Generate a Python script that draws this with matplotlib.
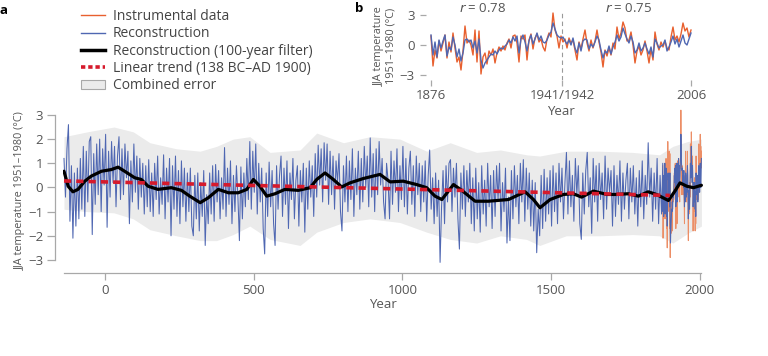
import numpy as np
import matplotlib
matplotlib.use("Agg")
import matplotlib.pyplot as plt
from matplotlib.lines import Line2D
from matplotlib.patches import Patch

plt.rcParams['font.family'] = ['Open Sans', 'DejaVu Sans']

# ---------------- data ----------------
# Reconstruction (sampled every 5 years, 138 BC .. AD 1872)
recon_start = -138
recon_step = 5
recon_5yr = [
    1.2, -0.4, 1.6, 2.6, -1.4, 0.9, -2.1, 0.6, -1.6, 0.8,
    -1.3, 1.2, -0.9, 1.7, -1.2, 1.5, -0.6, 1.9, 2.1, -1.95,
    1.4, -0.7, 1.8, -0.3, 2.0, -1.0, 1.6, 0.1, 2.2, -1.65,
    1.5, -0.4, 1.9, 0.2, 1.7, -0.8, 1.3, 2.1, -0.5, 1.6,
    -0.3, 1.8, 0.4, 1.5, -1.5, 1.1, -0.6, 1.8, -0.2, 1.3,
    -0.9, 1.2, -0.4, 1.0, -1.1, 0.9, -0.8, 1.15, -1.0, 0.6,
    -1.2, 1.0, -0.5, 1.3, -1.1, 0.4, -0.7, 1.35, -1.3, 0.8,
    -0.6, 1.2, -2.0, 0.9, -0.9, 1.3, -1.2, 0.7, -1.5, 1.1,
    -0.8, 0.8, -1.4, 0.6, -1.0, 0.8, -1.6, -2.0, 0.5, -1.3,
    0.6, -1.8, 0.2, -1.2, 0.7, -2.4, -0.3, -1.5, 0.6, -1.1,
    0.9, -1.4, 0.95, -0.6, 0.7, -1.3, 0.4, -0.9, 1.65, -1.2,
    0.8, -0.7, 1.1, -1.5, 0.5, -1.0, 0.9, -0.4, -2.2, 0.85,
    -1.3, 0.6, -0.8, 1.2, -0.5, 1.9, -0.9, 1.5, -0.2, 1.8,
    -1.1, 1.0, -0.6, 0.8, -1.7, -2.75, 0.6, -1.2, 1.05, -0.8,
    0.7, -1.5, -2.4, 0.9, -0.9, 0.5, 1.3, -1.2, 0.8, -0.7,
    1.1, -1.7, 0.6, -0.5, 1.2, -1.3, 0.3, 0.9, -1.6, 0.7,
    -0.6, 1.0, -1.85, 0.8, -0.9, 1.1, -0.4, 0.9, -1.2, 1.4,
    -0.4, 1.75, 0.1, 1.6, -0.6, 1.85, 0.3, 1.8, -0.7, 1.5,
    -0.3, 1.3, -0.9, 1.1, 0.2, 1.4, -1.0, -1.8, 0.9, -0.6,
    1.3, -1.0, 1.1, -0.5, 1.6, -1.2, 0.8, -0.3, 1.5, -0.9,
    1.2, -0.6, 1.7, 0.0, 1.3, -0.8, 2.05, -0.4, 1.4, -1.0,
    1.6, -0.3, 1.9, 0.1, 1.2, -0.6, -1.3, 1.0, 0.3, -1.3,
    1.5, -0.7, 1.1, -0.2, 1.6, -1.0, 0.9, -0.5, 1.7, -0.8,
    1.2, -1.1, 0.8, 1.5, -0.7, 0.9, -1.2, 1.3, -0.3, 1.0,
    -1.0, 0.9, -0.6, 1.1, -1.4, 0.5, 1.55, -0.9, 0.4, -1.5,
    0.6, -1.2, 0.3, -3.1, -0.8, 0.7, -1.5, 0.9, -0.6, 1.0,
    1.15, -1.0, 0.8, -0.4, 1.0, -1.3, -2.55, 0.6, -0.9, 0.9,
    -1.2, 0.7, -0.6, 1.0, -1.5, 0.4, -1.8, 0.8, -1.3, 0.2,
    -1.85, 0.9, -1.1, 0.3, -1.6, 1.0, -0.8, 0.5, -1.7, 0.7,
    -1.2, 0.9, -0.5, 1.0, -1.8, 0.2, -1.0, 0.8, -2.3, -0.4,
    -2.2, 0.7, -1.3, 0.9, -0.8, 0.5, -1.5, 1.0, -0.6, 1.15,
    -1.4, 0.8, -0.9, 0.6, -1.6, 0.3, -1.8, 0.2, -2.7, -0.9,
    -2.0, 0.5, -1.7, 0.75, -1.4, 0.4, -1.1, 0.7, -1.6, 0.9,
    -1.0, 0.6, -1.5, 1.0, -0.6, 0.8, -1.3, 0.2, 1.45, -1.1,
    1.1, -0.8, 0.5, -1.4, 1.2, -0.3, 0.9, -1.5, -2.15, 0.6,
    -1.1, 0.7, 1.45, -0.8, 0.4, -1.9, 1.2, -0.6, 0.9, -1.4,
    1.0, -0.5, 0.6, -1.3, 1.3, -0.9, 0.8, -0.2, 0.7, -1.6,
    0.9, -1.2, 0.5, -0.7, 1.1, -1.4, 0.6, -0.9, 0.3, 1.0,
    -1.3, 0.8, -0.6, 0.9, -1.1, 0.4, -1.6, 0.7, -0.8, 1.1,
    -1.3, 0.5, -0.7, 1.85, -0.4, 0.8, -1.4, 0.6, -0.9, 1.2,
    -1.5, 0.5, -1.1,
]

# Annual period 1876-2006: instrumental data and reconstruction
inst_first_year = 1876
inst_last_year = 2006
instrumental = [
    0.9, -2.1, -0.5, -1.3, 0.4, -0.6, 0.2, 1.0, -1.3, 0.3,
    -0.7, 1.2, -0.3, -1.7, -1.2, -2.5, -0.6, 1.9, 0.2, 0.5,
    0.0, -1.0, 1.5, -1.7, 1.4, -2.9, -1.2, -0.8, -1.9, -0.6,
    -1.0, -0.4, -1.8, -0.8, -0.2, -0.6, -0.1, -0.5, 0.2, 0.6,
    -0.3, 0.9, 1.0, 0.2, -1.7, 0.9, 0.6, 1.0, -1.5, 0.5,
    1.1, -0.4, 0.7, 1.1, 0.3, 0.6, -0.2, -0.6, 0.6, 1.2,
    0.8, 3.2, 1.5, 0.9, -0.3, 0.9, 0.3, 0.6, -0.3, 0.7,
    0.2, 0.5, -0.5, -1.5, 0.3, -0.4, 0.6, 1.5, 0.2, -0.6,
    0.5, -0.3, 0.4, 1.5, 0.3, -0.7, -2.2, -0.5, -1.1, -0.3,
    -1.0, 0.2, -0.4, 1.8, 0.6, 1.2, 2.3, 1.7, 0.4, 0.5,
    1.3, 0.0, -1.8, -0.6, -0.1, -1.0, -0.5, 0.4, -0.6, -1.8,
    -0.4, -1.5, 1.3, 0.1, -0.5, 0.3, -0.2, 0.4, -0.3, -0.5,
    0.8, 1.8, 0.5, 0.9, 0.3, 1.1, 2.2, 1.4, 1.7, 0.8,
    1.5,
]
recon_annual = [
    1.0, -1.0, 0.3, -1.2, 0.5, -0.3, 0.4, 1.0, -1.1, -0.2,
    -0.5, 0.8, 0.0, -1.2, -0.4, -1.6, -0.8, 0.5, 0.6, 0.3,
    0.5, -0.3, 0.4, -0.8, 0.6, -1.5, -2.3, -1.8, -1.5, -1.2,
    -0.9, -1.0, -0.6, -0.9, -0.5, -0.3, -0.4, -0.1, 0.1, 0.5,
    0.2, 0.8, 0.4, 0.9, -0.8, 0.6, 1.0, 0.3, -0.6, 0.4,
    1.0, 0.1, 0.6, 1.2, 0.5, 0.9, 0.3, 0.2, 0.5, 1.0,
    1.3, 2.2, 1.6, 1.0, 0.8, 0.7, 0.8, 0.4, 0.1, 0.5,
    0.0, 0.7, -0.3, -0.8, 0.2, -0.6, 0.4, 0.6, 0.5, -0.4,
    0.1, -0.2, 0.3, 0.9, 0.5, -0.5, -1.3, -0.6, -0.8, -0.1,
    -0.9, -0.2, 0.3, 1.0, 0.4, 0.8, 1.7, 1.1, 0.6, 0.2,
    0.9, 0.3, -0.8, -0.5, 0.2, -0.6, -0.3, 0.2, -0.4, -0.9,
    -0.2, -1.2, 0.6, 0.2, -0.3, -0.1, 0.0, 0.5, -0.6, -0.2,
    0.3, 0.9, 0.1, 0.6, -0.2, 0.4, 1.0, 0.2, 0.0, 0.6,
    1.2,
]

# 100-year filtered reconstruction
smooth_years = [-138, -124, -108, -91, -68, -46, -12, 21, 44, 66, 100, 122, 145,
                178, 223, 257, 285, 320, 347, 381, 415, 448, 477, 499, 521, 544,
                572, 605, 650, 690, 712, 740, 768, 796, 824, 869, 925, 959, 1003,
                1048, 1082, 1110, 1133, 1172, 1200, 1245, 1289, 1357, 1413, 1441,
                1463, 1497, 1542, 1575, 1603, 1643, 1688, 1721, 1760, 1794, 1827,
                1855, 1895, 1917, 1934, 1957, 1979, 2006]
smooth_vals = [0.67, 0.05, -0.18, -0.08, 0.26, 0.47, 0.67, 0.74, 0.84, 0.67, 0.4,
               0.33, 0.05, -0.08, -0.01, -0.12, -0.36, -0.63, -0.43, -0.08, -0.22,
               -0.22, -0.08, 0.33, 0.05, -0.36, -0.26, -0.08, -0.12, -0.01, 0.33,
               0.6, 0.33, 0.02, 0.19, 0.37, 0.54, 0.23, 0.26, 0.12, -0.01, -0.36,
               -0.5, 0.12, -0.12, -0.57, -0.57, -0.5, -0.18, -0.5, -0.84, -0.5,
               -0.29, -0.26, -0.4, -0.15, -0.29, -0.29, -0.26, -0.36, -0.18,
               -0.29, -0.54, -0.15, 0.19, 0.05, -0.01, 0.09]

# Linear trend (138 BC - AD 1900)
trend_years = [-138, 1900]
trend_vals = [0.27, -0.33]

# Combined error envelope
band_years = [-138, -60, 30, 95, 151, 240, 320, 375, 431, 487, 555, 656, 712, 802,
              891, 992, 1082, 1161, 1250, 1330, 1418, 1462, 1551, 1663, 1775, 1865,
              1910, 1960, 2006]
band_upper = [2.1, 2.3, 2.5, 2.3, 1.85, 1.6, 1.5, 1.7, 2.0, 2.1, 1.45, 1.55, 2.25,
              1.85, 2.1, 2.0, 1.5, 1.85, 1.45, 1.55, 1.35, 1.3, 1.5, 1.5, 1.45,
              1.35, 1.7, 1.9, 2.0]
band_lower = [-0.9, -1.0, -1.05, -1.3, -1.75, -2.0, -2.2, -2.2, -1.95, -1.6, -2.15,
              -2.4, -1.85, -1.45, -1.3, -1.45, -1.85, -2.15, -2.3, -2.0, -2.15,
              -2.4, -2.0, -2.0, -1.95, -2.0, -2.3, -1.9, -1.6]

main_xticks = [0, 500, 1000, 1500, 2000]
main_yticks = [-3, -2, -1, 0, 1, 2, 3]
inset_xticks = [1876, 1941.5, 2006]
inset_xticklabels = ['1876', '1941/1942', '2006']
inset_yticks = [-3, 0, 3]
r_labels = [(1902, 'r', ' = 0.78'), (1975, 'r', ' = 0.75')]

# ---------------- build series ----------------
recon_years = recon_start + recon_step * np.arange(len(recon_5yr))
inst_years = np.arange(inst_first_year, inst_last_year + 1)
full_years = np.concatenate([recon_years, inst_years])
full_vals = np.concatenate([np.array(recon_5yr), np.array(recon_annual)])

BLUE = '#4f67b2'
ORANGE_MAIN = '#ec8e66'
ORANGE = '#e8602f'
RED = '#d61a2c'
BAND = '#ebebeb'
AXC = '#a8a8a8'
TXT = '#555555'

W, H = 768, 356
fig = plt.figure(figsize=(W / 100, H / 100), dpi=100)

# ---------------- main panel ----------------
ax = fig.add_axes([63.4 / W, (H - 273) / H, 639.2 / W, 165.3 / H])
ax.set_xlim(-140, 2010)
ax.set_ylim(-3.54, 3.3)
ax.fill_between(band_years, band_lower, band_upper, color=BAND, lw=0, zorder=1)
ax.plot(inst_years, instrumental, color=ORANGE_MAIN, lw=0.7, zorder=2)
ax.plot(full_years, full_vals, color=BLUE, lw=0.75, zorder=3)
ax.plot(smooth_years, smooth_vals, color='black', lw=2.3, zorder=4,
        solid_capstyle='round', solid_joinstyle='round')
ax.plot(trend_years, trend_vals, color=RED, lw=2.6, dashes=(2.0, 1.4), zorder=5)

for s in ['top', 'right']:
    ax.spines[s].set_visible(False)
ax.spines['left'].set_position(('outward', 6))
ax.spines['left'].set_bounds(-3, 3)
ax.spines['bottom'].set_bounds(-138, 2003)
for s in ['left', 'bottom']:
    ax.spines[s].set_color(AXC)
    ax.spines[s].set_linewidth(0.9)
ax.set_xticks(main_xticks)
ax.set_yticks(main_yticks)
ax.tick_params(axis='y', length=5.5, width=0.9, color=AXC, labelcolor=TXT,
               labelsize=9.5, pad=3)
ax.tick_params(axis='x', length=5, width=0.9, color=AXC, labelcolor=TXT,
               labelsize=9.5, pad=3)
ax.set_xlabel('Year', fontsize=9.5, color=TXT, labelpad=1)
fig.text(20 / W, 1 - 191 / H, 'JJA temperature 1951–1980 (°C)', rotation=90,
         ha='center', va='center', fontsize=7.8, color=TXT)

# ---------------- inset panel ----------------
ax2 = fig.add_axes([426 / W, (H - 80) / H, 269 / W, 70 / H])
ax2.set_xlim(1873.5, 2008)
ax2.set_ylim(-3.5, 3.5)
ax2.plot(inst_years, instrumental, color=ORANGE, lw=1.0, zorder=2)
ax2.plot(inst_years, recon_annual, color=BLUE, lw=1.0, zorder=3)
ax2.axvline(1941.5, color='#9a9a9a', lw=0.8, dashes=(4, 3), zorder=1)
for s in ax2.spines.values():
    s.set_visible(False)
ax2.set_xticks(inset_xticks)
ax2.set_xticklabels(inset_xticklabels)
ax2.set_yticks(inset_yticks)
ax2.tick_params(axis='y', length=4.3, width=0.9, color=AXC, labelcolor=TXT,
                labelsize=9.5, pad=4)
ax2.tick_params(axis='x', length=4.3, width=0.9, color=AXC, labelcolor=TXT,
                labelsize=9.5, pad=2)
ax2.set_xlabel('Year', fontsize=9.5, color=TXT, labelpad=2)
for xr, rname, rest in r_labels:
    ax2.text(xr, 3.6, f'${rname}$' + rest, ha='center', va='center',
             fontsize=9.5, color=TXT)
fig.text(385 / W, 1 - 46 / H, 'JJA temperature\n1951–1980 (°C)', rotation=90,
         ha='center', va='center', fontsize=7.8, color=TXT, linespacing=1.05)

# ---------------- legend ----------------
handles = [
    Line2D([], [], color=ORANGE, lw=1.0),
    Line2D([], [], color=BLUE, lw=1.0),
    Line2D([], [], color='black', lw=2.5),
    Line2D([], [], color=RED, lw=2.6, dashes=(1.2, 0.8)),
    Patch(facecolor=BAND, edgecolor=AXC, lw=0.8),
]
labels = ['Instrumental data', 'Reconstruction', 'Reconstruction (100-year filter)',
          'Linear trend (138 BC–AD 1900)', 'Combined error']
leg = fig.legend(handles, labels, loc='upper left', bbox_to_anchor=(81 / W, 1 - 9 / H),
                 frameon=False, fontsize=10, handlelength=1.7, handletextpad=0.6,
                 labelspacing=0.17, borderaxespad=0, borderpad=0, handleheight=0.6)
for t in leg.get_texts():
    t.set_color('#444444')

fig.text(4 / W, 1 - 10 / H, 'a', fontsize=9.5, fontweight='bold', ha='center', va='center')
fig.text(359 / W, 1 - 9 / H, 'b', fontsize=9.5, fontweight='bold', ha='center', va='center')

fig.savefig('out.png', dpi=100)
